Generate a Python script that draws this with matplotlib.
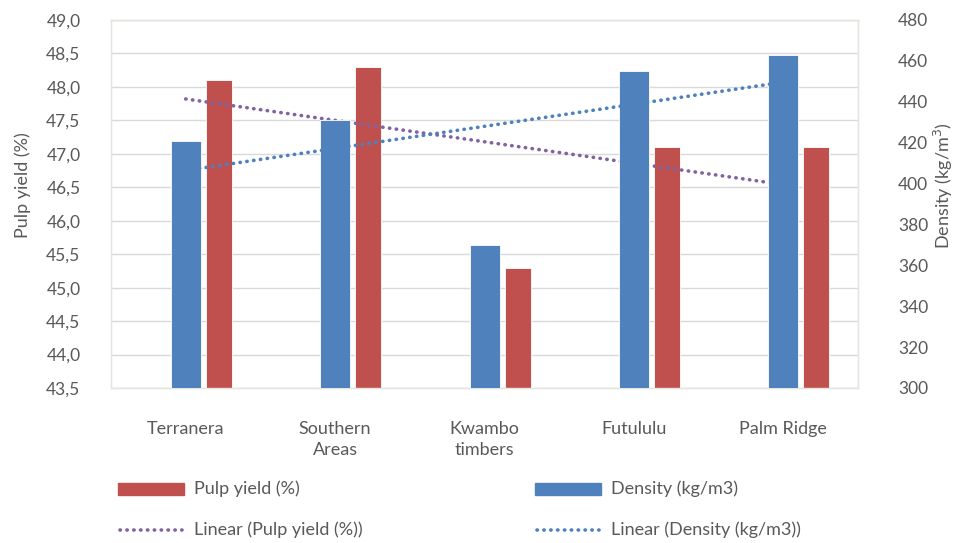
import numpy as np
import matplotlib
matplotlib.use("Agg")
import matplotlib.pyplot as plt
from matplotlib.patches import Rectangle
from matplotlib.lines import Line2D
from matplotlib.ticker import FuncFormatter

plt.rcParams['font.family'] = ['Lato', 'DejaVu Sans']

# Data
categories = ["Terranera", "Southern\nAreas", "Kwambo\ntimbers", "Futululu", "Palm Ridge"]
pulp_yield = [48.1, 48.3, 45.3, 47.1, 47.1]      # %
density = [421, 431, 370, 455, 463]              # kg/m3

RED = "#c0504d"
BLUE = "#4f81bd"
PURPLE = "#8064a2"
TXT = "#595959"
GRID = "#d9d9d9"

W, H = 957, 543
fig = plt.figure(figsize=(W / 100, H / 100), dpi=100)
L, R, T, B = 111, 858, 20, 388
ax = fig.add_axes([L / W, 1 - B / H, (R - L) / W, (B - T) / H])
ax2 = ax.twinx()

x = np.arange(len(categories))
# pixels per category slot
ppc = (R - L) / len(categories)
bw_blue = 30 / ppc
bw_red = 26 / ppc
red_off = 33 / ppc

ax.bar(x + red_off, pulp_yield, width=bw_red, color=RED,
       edgecolor="white", linewidth=0.6, zorder=3)
ax2.bar(x, density, width=bw_blue, color=BLUE, edgecolor="white", linewidth=0.6, zorder=3)
ax.set_ylim(43.5, 49.0)
ax2.set_ylim(300, 480)
ax.set_xlim(-0.5, len(categories) - 0.5)

# Linear trend lines
DOTS = (0, (0.1, 1.8))
xi = x + 1
p1 = np.polyfit(xi, pulp_yield, 1)
p2 = np.polyfit(xi, density, 1)
dot = dict(linestyle=DOTS, linewidth=2.6, dash_capstyle="round", zorder=5)
ax.plot(x, np.polyval(p1, xi), color=PURPLE, **dot)
ax2.plot(x, np.polyval(p2, xi), color=BLUE, **dot)
ax.set_zorder(1)
ax2.set_zorder(2)
ax2.patch.set_visible(False)

# Grid and frame
ax.set_yticks(np.arange(43.5, 49.01, 0.5))
ax2.set_yticks(np.arange(300, 481, 20))
ax.yaxis.grid(True, color=GRID, linewidth=1.0, zorder=0)
ax.set_axisbelow(True)
for a in (ax, ax2):
    for s in a.spines.values():
        s.set_color("#e6e6e0")
        s.set_linewidth(1.0)
ax.tick_params(axis="both", length=0)
ax2.tick_params(axis="both", length=0)
ax.yaxis.set_major_formatter(FuncFormatter(lambda v, p: f"{v:.1f}".replace(".", ",")))
ax.tick_params(axis="y", pad=22, labelsize=12.5, labelcolor=TXT)
ax2.tick_params(axis="y", pad=29, labelsize=12.5, labelcolor=TXT)
ax.set_xticks(x)
ax.set_xticklabels(categories, fontsize=13, color=TXT, linespacing=1.35)
ax.tick_params(axis="x", pad=24)

ax.set_ylabel("Pulp yield (%)", fontsize=13, color=TXT)
ax.yaxis.set_label_coords(-80 / (R - L), 0.55)
ax2.set_ylabel("Density (kg/m$^3$)", fontsize=13, color=TXT, rotation=90)
ax2.yaxis.set_label_coords(1 + 74 / (R - L), 0.55)

# Legend below the plot
def legend_patch(xp, yp, color, label):
    fig.add_artist(Rectangle((xp / W, 1 - (yp + 6) / H), 66 / W, 12 / H,
                             transform=fig.transFigure, color=color))
    fig.text((xp + 76) / W, 1 - yp / H, label, fontsize=13, color=TXT, va="center")

def legend_line(xp, yp, color, label):
    fig.add_artist(Line2D([(xp + 2) / W, (xp + 64) / W], [1 - yp / H, 1 - yp / H],
                          transform=fig.transFigure, color=color,
                          linestyle=DOTS, linewidth=2.6,
                          dash_capstyle="round"))
    fig.text((xp + 76) / W, 1 - yp / H, label, fontsize=13, color=TXT, va="center")

legend_patch(118, 489, RED, "Pulp yield (%)")
legend_patch(535, 489, BLUE, "Density (kg/m3)")
legend_line(118, 530, PURPLE, "Linear (Pulp yield (%))")
legend_line(535, 530, BLUE, "Linear (Density (kg/m3))")

fig.savefig("out.png", dpi=100, facecolor="white")
